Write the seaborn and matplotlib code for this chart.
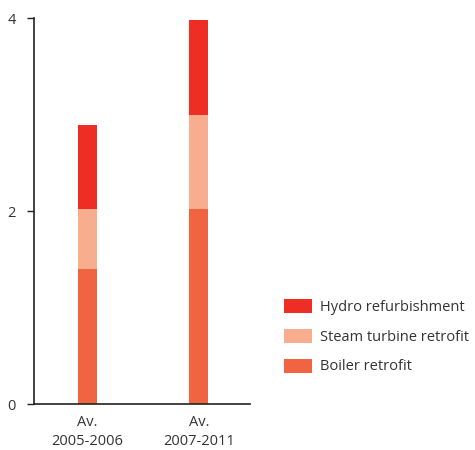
import matplotlib
matplotlib.use("Agg")
import matplotlib.pyplot as plt
import seaborn as sns
import numpy as np
import pandas as pd
from matplotlib.patches import Patch

categories = ["Av.\n2005-2006", "Av.\n2007-2011"]
boiler = [1.40, 2.02]
steam = [0.62, 0.97]
hydro = [0.87, 0.99]
series_names = ["Hydro refurbishment", "Steam turbine retrofit", "Boiler retrofit"]
colors = {"Hydro refurbishment": "#EE2E24", "Steam turbine retrofit": "#F8AE8E", "Boiler retrofit": "#F06441"}

sns.set_style("white")
plt.rcParams['font.family'] = ['Open Sans', 'DejaVu Sans']

fig = plt.figure(figsize=(4.75, 4.5), dpi=100)
ax = fig.add_axes([0.0716, 0.102, 0.455, 0.858])

b = np.array(boiler)
s = b + np.array(steam)
h = s + np.array(hydro)
layers = [("Hydro refurbishment", h), ("Steam turbine retrofit", s), ("Boiler retrofit", b)]
for name, vals in layers:
    df = pd.DataFrame({"cat": categories, "val": vals})
    sns.barplot(data=df, x="cat", y="val", color=colors[name], width=0.17,
                saturation=1, ax=ax, errorbar=None, linewidth=0)

ax.set_ylim(0, 4)
ax.set_xlim(-0.48, 1.46)
ax.set_yticks([0, 2, 4])
ax.set_xlabel("")
ax.set_ylabel("")
for sp in ["top", "right"]:
    ax.spines[sp].set_visible(False)
for sp in ["left", "bottom"]:
    ax.spines[sp].set_color("#222222")
    ax.spines[sp].set_linewidth(1.2)
ax.tick_params(axis="y", length=5, width=1, color="#222222", labelsize=10.5, labelcolor="#333333", pad=8, left=True)
ax.tick_params(axis="x", length=0, labelsize=10.5, labelcolor="#333333", pad=8)
for lab in ax.get_xticklabels():
    lab.set_linespacing(1.3)

handles = [Patch(facecolor=colors[n], edgecolor="none") for n in series_names]
fig.legend(handles, series_names, loc="upper left", bbox_to_anchor=(0.57, 0.365),
           frameon=False, fontsize=10.5, handlelength=1.9, handleheight=1.1,
           labelspacing=0.95, handletextpad=0.6, labelcolor="#333333")

fig.savefig("out.png", dpi=100)
